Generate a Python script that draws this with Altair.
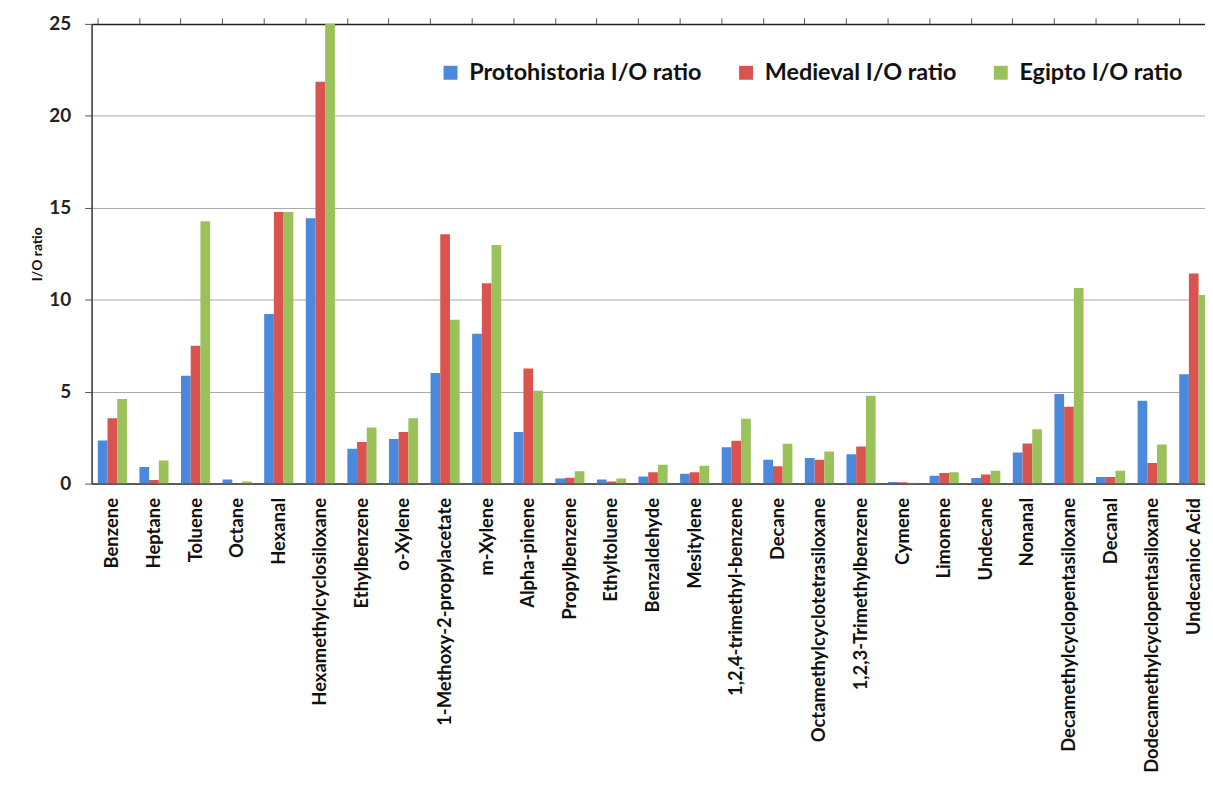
import altair as alt
import pandas as pd

compounds = [
    "Benzene", "Heptane", "Toluene", "Octane", "Hexanal", "Hexamethylcyclosiloxane",
    "Ethylbenzene", "o-Xylene", "1-Methoxy-2-propylacetate", "m-Xylene", "Alpha-pinene",
    "Propylbenzene", "Ethyltoluene", "Benzaldehyde", "Mesitylene", "1,2,4-trimethyl-benzene",
    "Decane", "Octamethylcyclotetrasiloxane", "1,2,3-Trimethylbenzene", "Cymene", "Limonene",
    "Undecane", "Nonanal", "Decamethylcyclopentasiloxane", "Decanal",
    "Dodecamethylcyclopentasiloxane", "Undecanioc Acid",
]
protohistoria = [2.34, 0.90, 5.86, 0.22, 9.22, 14.43, 1.89, 2.42, 6.02, 8.15, 2.80,
                 0.27, 0.22, 0.38, 0.54, 1.97, 1.30, 1.39, 1.60, 0.08, 0.43, 0.31,
                 1.69, 4.87, 0.36, 4.51, 5.95]
medieval = [3.55, 0.20, 7.50, 0.02, 14.77, 21.85, 2.26, 2.80, 13.56, 10.90, 6.26,
            0.32, 0.12, 0.61, 0.61, 2.33, 0.94, 1.30, 2.02, 0.07, 0.58, 0.49,
            2.18, 4.18, 0.36, 1.12, 11.43]
egipto = [4.60, 1.26, 14.27, 0.12, 14.77, 25.0, 3.05, 3.55, 8.91, 12.97, 5.05,
          0.67, 0.27, 1.03, 0.97, 3.53, 2.16, 1.75, 4.78, 0.05, 0.61, 0.70,
          2.96, 10.64, 0.70, 2.13, 10.26]
series = ["Protohistoria I/O ratio", "Medieval I/O ratio", "Egipto I/O ratio"]
colors = ["#4A89DC", "#D9534F", "#9BC25A"]

rows = []
for i, c in enumerate(compounds):
    for s, vals in zip(series, [protohistoria, medieval, egipto]):
        rows.append({"compound": c, "series": s, "value": vals[i]})
df = pd.DataFrame(rows)

FONT = "Lato"
step = 41.8
full_range = step * len(compounds)

xscale = alt.Scale(domain=compounds, range=[0, full_range], paddingInner=0.3, paddingOuter=0.15)

bars = alt.Chart(df).mark_bar(clip=True).encode(
    x=alt.X("compound:N", scale=xscale, sort=compounds,
            axis=alt.Axis(title=None, labelAngle=-90, labelFont=FONT, labelFontSize=18.5,
                          labelFontWeight="bold", labelColor="#111", ticks=False,
                          labelPadding=14, domainColor="#333", domainWidth=1.5,
                          labelLimit=400)),
    xOffset=alt.XOffset("series:N", sort=series),
    y=alt.Y("value:Q", scale=alt.Scale(domain=[0, 25], nice=False),
            axis=alt.Axis(title="I/O ratio", values=[0, 5, 10, 15, 20, 25],
                          titleFont=FONT, titleFontSize=14, titleFontWeight="bold",
                          titleColor="#111", titlePadding=4,
                          labelFont=FONT, labelFontSize=19, labelFontWeight="bold",
                          labelColor="#222", labelPadding=14, tickSize=7,
                          tickColor="#555", domainColor="#333", domainWidth=1.5,
                          gridColor=alt.condition(alt.datum.value == 25, alt.value("#222"), alt.value("#a6a6a6")),
                          gridWidth=alt.condition(alt.datum.value == 25, alt.value(1.5), alt.value(1)))),
    color=alt.Color("series:N", sort=series,
                    scale=alt.Scale(domain=series, range=colors),
                    legend=alt.Legend(title=None, orient="none", direction="horizontal",
                                      legendX=349, legendY=37, symbolType="square",
                                      symbolSize=196, symbolStrokeWidth=0,
                                      labelFont=FONT, labelFontSize=23.5,
                                      labelFontWeight="bold", labelColor="#111",
                                      labelOffset=7, columnPadding=32, labelLimit=400)),
)

ticks = alt.Chart(df).mark_bar(opacity=0).encode(
    x=alt.X("compound:N", scale=xscale, sort=compounds,
            axis=alt.Axis(title=None, labels=False, ticks=True, tickSize=6,
                          tickColor="#555", bandPosition=0, domain=False)),
    y=alt.Y("value:Q"),
)

chart = alt.layer(bars, ticks).resolve_axis(x="independent").properties(
    width=1119, height=462,
    autosize=alt.AutoSizeParams(type="none"),
    padding={"left": 84, "top": 14, "right": 0, "bottom": 310},
    background="white",
).configure_view(stroke=None)

chart.save("out.html", embed_options={"renderer": "svg", "actions": False})
